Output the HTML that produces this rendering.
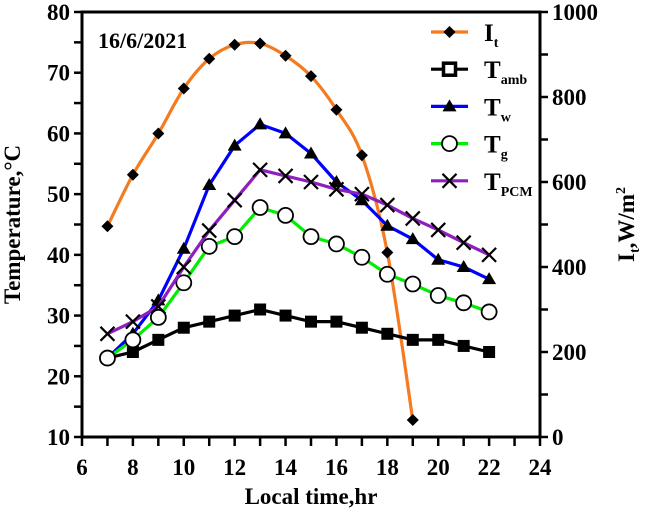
<!DOCTYPE html>
<html><head><meta charset="utf-8"><style>
body{margin:0;background:#fff}
svg text{font-family:"Liberation Serif",serif;font-weight:bold}
</style></head><body>
<svg id="c" width="646" height="513"></svg>
<script>
const hours=[7,8,9,10,11,12,13,14,15,16,17,18,19,20,21,22];
const itHours=[7,8,9,10,11,12,13,14,15,16,17,18,19];
const It=[496,617,714,820,890,923,926,897,849,770,663,434,40];
const Tamb=[23,24,26,28,29,30,31,30,29,29,28,27,26,26,25,24];
const Tw=[23,27,32.5,41,51.5,58,61.5,60,56.7,52,49,44.8,42.6,39.2,38,36];
const Tg=[23,26,29.7,35.4,41.4,43,47.8,46.5,43,41.8,39.6,36.8,35.2,33.3,32.1,30.6];
const Tpcm=[27,29,31.5,38,44,49,54,53,52,50.8,50,48.2,46,44.1,42,40];
const xTicks=[6,8,10,12,14,16,18,20,22,24];
const yTicks=[10,20,30,40,50,60,70,80];
const y2Ticks=[0,200,400,600,800,1000];
const L=82,R=540,T=12,B=437;
const X=v=>L+(v-6)/18*(R-L);
const Y=v=>B-(v-10)/70*(B-T);
const Y2=v=>B-v/1000*(B-T);
const svg=document.getElementById('c');
const NS='http://www.w3.org/2000/svg';
function mk(tag,a,p){const e=document.createElementNS(NS,tag);for(const k in a)e.setAttribute(k,a[k]);(p||svg).appendChild(e);return e;}
function txt(s,x,y,a){const e=mk('text',Object.assign({x:x,y:y},a));e.textContent=s;return e;}
let f=mk('rect',{x:L,y:T,width:R-L,height:B-T,fill:'none',stroke:'#000','stroke-width':3});


for(let v=10;v<=80;v+=5){let t=mk('line',{x1:L-8,x2:L,y1:Y(v),y2:Y(v),stroke:'#000','stroke-width':2.5});

}
for(let v=6;v<=24;v+=1){let t=mk('line',{x1:X(v),x2:X(v),y1:B,y2:B+9,stroke:'#000','stroke-width':2.5});

}
for(let v=0;v<=1000;v+=100){let t=mk('line',{x1:R,x2:R+8,y1:Y2(v),y2:Y2(v),stroke:'#000','stroke-width':2.5});

}
yTicks.forEach(v=>{let t=txt(v,L-12,Y(v)+8,{'font-size':23,'text-anchor':'end'});

});
xTicks.forEach(v=>{let t=txt(v,X(v),B+38,{'font-size':23,'text-anchor':'middle'});

});
y2Ticks.forEach(v=>{let t=txt(v,R+12,Y2(v)+8,{'font-size':23});

});
let xt=txt('Local time,hr',(L+R)/2,B+67,{'font-size':23,'text-anchor':'middle'});


let yt=txt('Temperature,°C',0,0,{'font-size':23,'text-anchor':'middle',transform:`translate(20,${(T+B)/2}) rotate(-90)`});


let y2t=mk('text',{'font-size':23,'text-anchor':'middle',transform:`translate(634,${(T+B)/2}) rotate(-90)`});
y2t.innerHTML='I<tspan font-size="14" dy="5">t</tspan><tspan dy="-5">,W/m</tspan><tspan font-size="14" dy="-9">2</tspan>';


let dt=txt('16/6/2021',98,48,{'font-size':22});


function marker(kind,x,y,g){
 if(kind==='diamond')mk('path',{d:`M${x} ${y-6}L${x+6} ${y}L${x} ${y+6}L${x-6} ${y}Z`,fill:'#000'},g);
 else if(kind==='square')mk('rect',{x:x-6,y:y-6,width:12,height:12,fill:'#000'},g);
 else if(kind==='squareo'){mk('rect',{x:x-6,y:y-6,width:12,height:12,fill:'#fff',stroke:'#000','stroke-width':3.5},g);}
 else if(kind==='tri')mk('path',{d:`M${x} ${y-7}L${x+7} ${y+5}L${x-7} ${y+5}Z`,fill:'#000'},g);
 else if(kind==='circle')mk('circle',{cx:x,cy:y,r:7.5,fill:'#fff',stroke:'#000','stroke-width':1.8},g);
 else if(kind==='x'){mk('path',{d:`M${x-7} ${y-7}L${x+7} ${y+7}M${x+7} ${y-7}L${x-7} ${y+7}`,stroke:'#000','stroke-width':2.2},g);}
}
function series(name,xs,ys,yf,color,kind,smooth){
 const g=mk('g',{});
 
 
 const pts=xs.map((h,i)=>[X(h),yf(ys[i])]);
 let d='M'+pts[0][0]+' '+pts[0][1];
 for(let i=1;i<pts.length;i++){
  if(!smooth){d+=`L${pts[i][0]} ${pts[i][1]}`;continue;}
  const p0=pts[i-2]||pts[i-1],p1=pts[i-1],p2=pts[i],p3=pts[i+1]||p2;
  const c1=[p1[0]+(p2[0]-p0[0])/6,p1[1]+(p2[1]-p0[1])/6],c2=[p2[0]-(p3[0]-p1[0])/6,p2[1]-(p3[1]-p1[1])/6];
  d+=`C${c1[0]} ${c1[1]} ${c2[0]} ${c2[1]} ${p2[0]} ${p2[1]}`;}
 mk('path',{d:d,fill:'none',stroke:color,'stroke-width':3.2,'stroke-linejoin':'round'},g);
 pts.forEach(p=>marker(kind,p[0],p[1],g));
}
series('series-it',itHours,It,Y2,'#f47b20','diamond',true);
series('series-tamb',hours,Tamb,Y,'#000','square',false);
series('series-tw',hours,Tw,Y,'#0000ff','tri',false);
series('series-tg',hours,Tg,Y,'#00ee00','circle',false);
series('series-tpcm',hours,Tpcm,Y,'#8e1fbf','x',false);
const leg=[['I','t','#f47b20','diamond'],['T','amb','#000','squareo'],['T','w','#0000ff','tri'],['T','g','#00ee00','circle'],['T','PCM','#8e1fbf','x']];
leg.forEach((l,i)=>{const y=32+i*37.2;const g=mk('g',{});
 
 
 mk('line',{x1:431,x2:468,y1:y,y2:y,stroke:l[2],'stroke-width':3.2},g);
 marker(l[3],449.5,y,g);
 const t=mk('text',{x:484,y:y+9,'font-size':25},g);
 t.innerHTML=l[0]+`<tspan font-size="14" dy="6">${l[1]}</tspan>`;
});
</script>
</body></html>
